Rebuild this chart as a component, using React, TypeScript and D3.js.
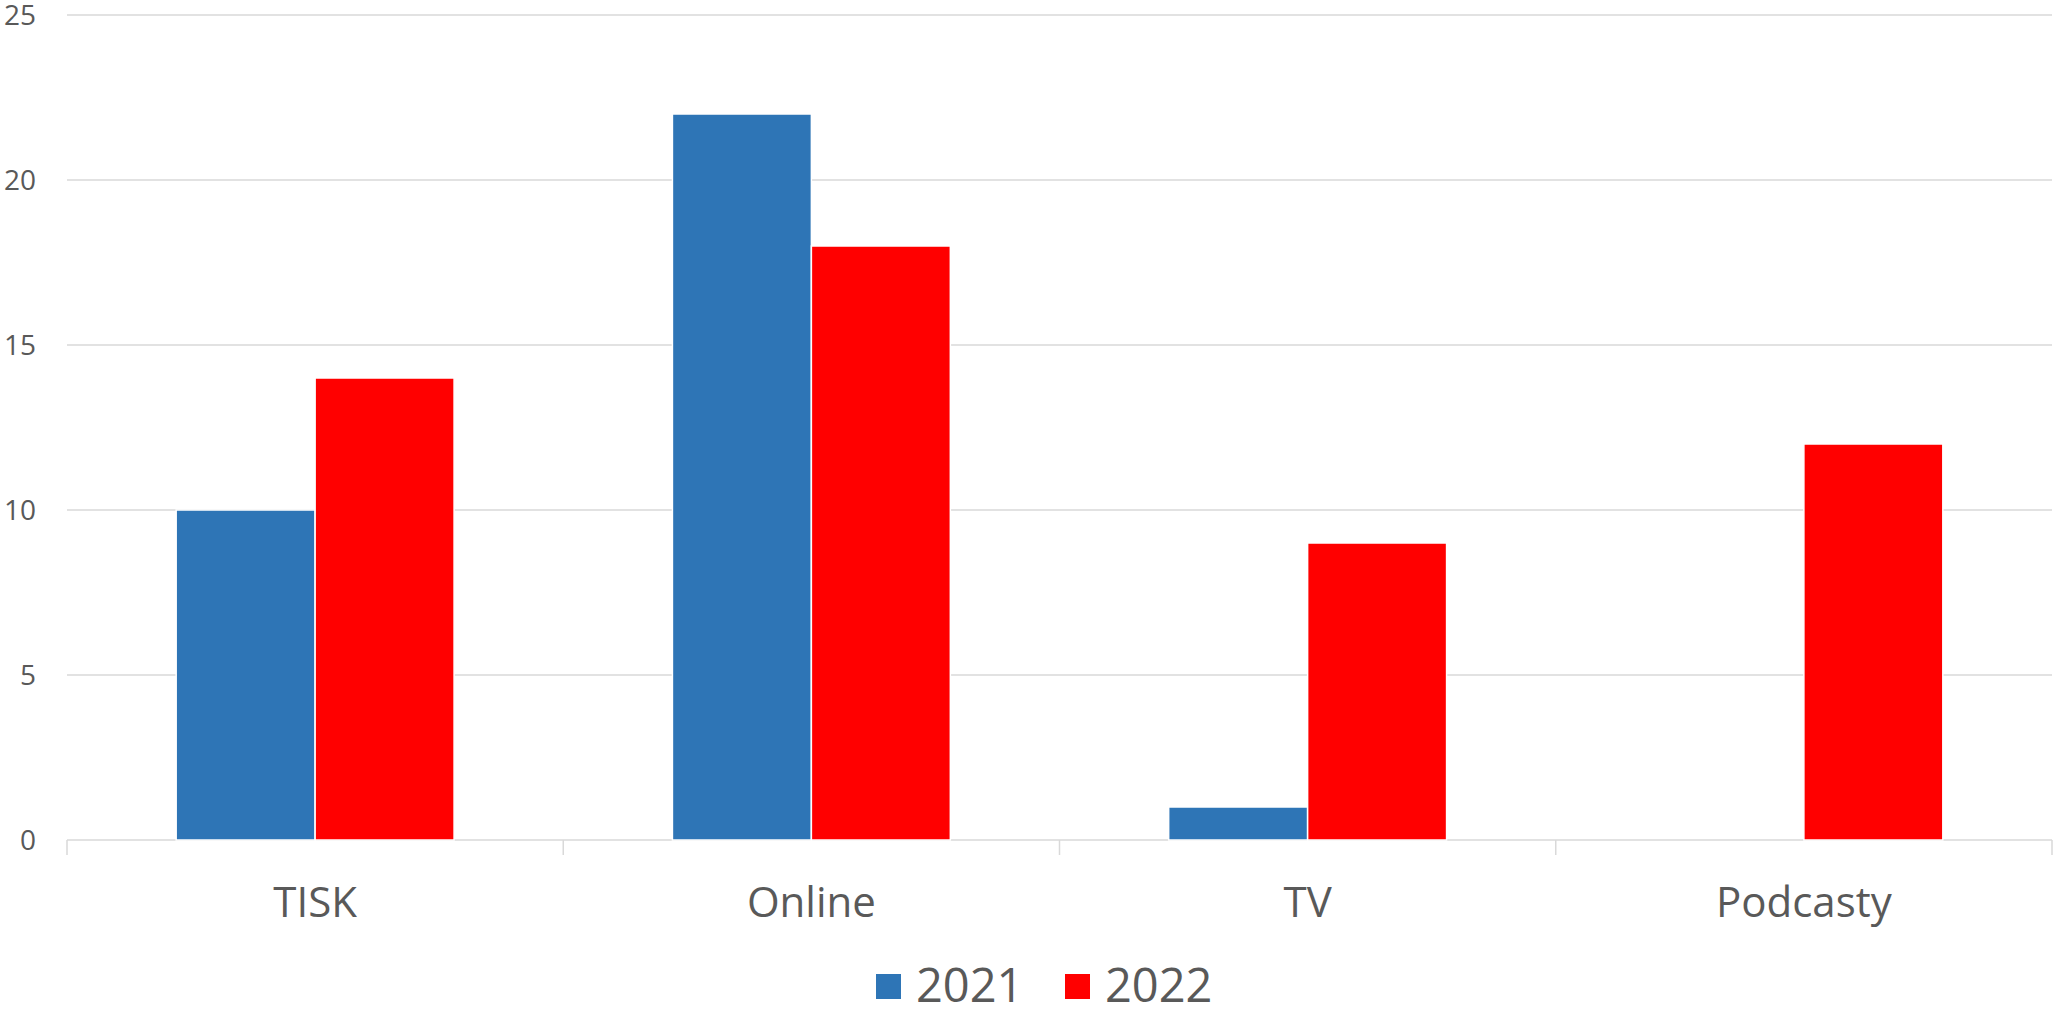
import React from "react";
import * as d3 from "d3";

const categories = ["TISK", "Online", "TV", "Podcasty"];
const seriesNames = ["2021", "2022"];
const values2021 = [10, 22, 1, 0];
const values2022 = [14, 18, 9, 12];
const yTicks = [0, 5, 10, 15, 20, 25];
const colors = ["#2E75B6", "#FF0000"];

const W = 2055;
const H = 1009;
const left = 67;
const right = 2052;
const top = 15;
const bottom = 840;
const FONT = "'Open Sans', 'DejaVu Sans', sans-serif";
const TEXT = "#595959";

export default function App() {
  const x0 = d3.scaleBand<string>().domain(categories).range([left, right]).paddingInner(0).paddingOuter(0);
  const y = d3.scaleLinear().domain([0, 25]).range([bottom, top]);
  const band = x0.bandwidth();
  const groupW = band * 0.56;
  const x1 = d3.scaleBand<string>().domain(seriesNames).range([0, groupW]).padding(0);
  const series = [values2021, values2022];
  const tickXs = [...categories.map((c) => x0(c) as number), right];
  const legendX = d3.scaleLinear().domain([0, 1]).range([876, 1065]);

  return (
    <svg width={W} height={H} style={{ position: "absolute", left: 0, top: 0, background: "#fff" }}>
      <rect x={0} y={0} width={W} height={H} fill="#fff" />
      {yTicks.map((t) => (
        <g key={t}>
          <line x1={left} x2={right} y1={y(t)} y2={y(t)} stroke="#d9d9d9" strokeWidth={1.5} />
          <text x={36} y={y(t) + 10} textAnchor="end" fontFamily={FONT} fontSize={28} fill={TEXT}>
            {t}
          </text>
        </g>
      ))}
      {tickXs.map((tx, i) => (
        <line key={i} x1={tx} x2={tx} y1={bottom} y2={bottom + 15} stroke="#d9d9d9" strokeWidth={1.5} />
      ))}
      {categories.map((c, ci) => (
        <g key={c}>
          {seriesNames.map((s, si) => {
            const v = series[si][ci];
            if (v <= 0) return null;
            const bx = (x0(c) as number) + (band - groupW) / 2 + (x1(s) as number);
            return (
              <rect
                key={s}
                x={bx}
                y={y(v)}
                width={x1.bandwidth()}
                height={bottom - y(v)}
                fill={colors[si]}
                stroke="#fff"
                strokeWidth={1.5}
              />
            );
          })}
          <text
            x={(x0(c) as number) + band / 2}
            y={917}
            textAnchor="middle"
            fontFamily={FONT}
            fontSize={42}
            fill={TEXT}
          >
            {c}
          </text>
        </g>
      ))}
      {seriesNames.map((s, si) => {
        const lx = legendX(si);
        return (
          <g key={s}>
            <rect x={lx} y={974} width={25} height={25} fill={colors[si]} />
            <text x={lx + 40} y={1002} fontFamily={FONT} fontSize={47} fill={TEXT}>
              {s}
            </text>
          </g>
        );
      })}
    </svg>
  );
}
